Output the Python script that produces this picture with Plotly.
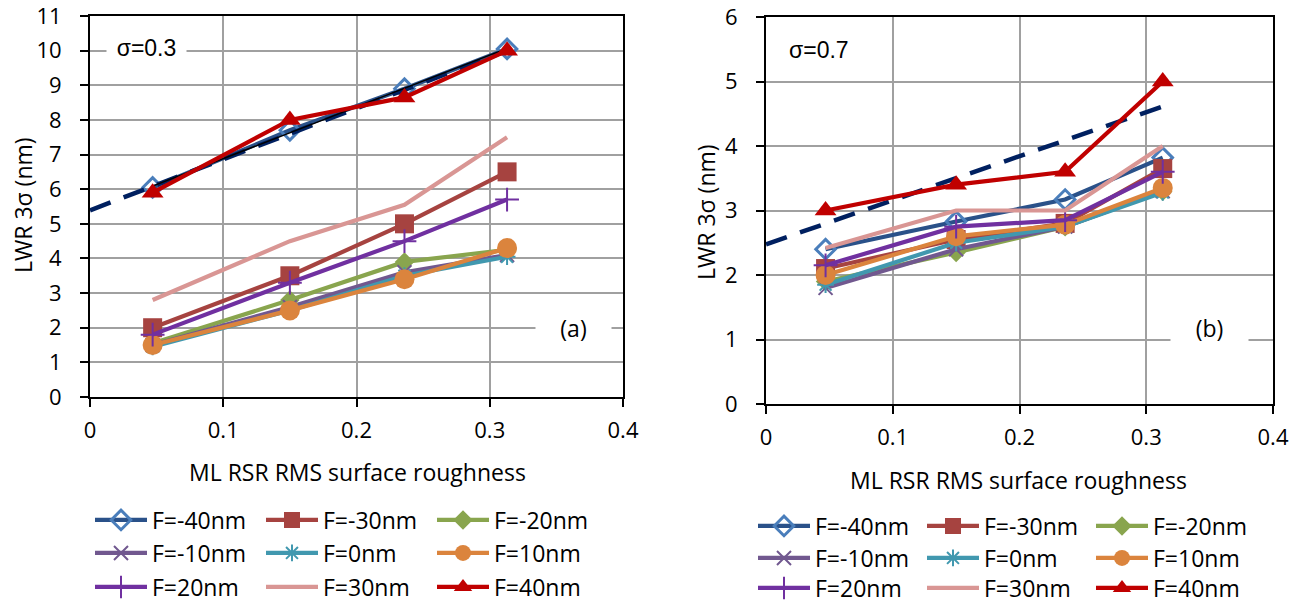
import numpy as np
import plotly.graph_objects as go

# ---------------- data ----------------
roughness = [0.047, 0.15, 0.236, 0.313]
series_names = ["F=-40nm", "F=-30nm", "F=-20nm", "F=-10nm", "F=0nm",
                "F=10nm", "F=20nm", "F=30nm", "F=40nm"]

# sigma = 0.3 (panel a)
a_m40 = [6.05, 7.7, 8.9, 10.05]
a_m30 = [2.0, 3.5, 5.0, 6.5]
a_m20 = [1.55, 2.8, 3.9, 4.25]
a_m10 = [1.5, 2.6, 3.6, 4.1]
a_0 = [1.45, 2.5, 3.5, 4.05]
a_p10 = [1.5, 2.5, 3.4, 4.3]
a_p20 = [1.8, 3.3, 4.5, 5.7]
a_p30 = [2.8, 4.5, 5.55, 7.5]
a_p40 = [5.9, 8.0, 8.65, 10.0]

# sigma = 0.7 (panel b)
b_m40 = [2.4, 2.83, 3.17, 3.82]
b_m30 = [2.1, 2.55, 2.8, 3.65]
b_m20 = [1.9, 2.35, 2.75, 3.3]
b_m10 = [1.8, 2.4, 2.75, 3.3]
b_0 = [1.85, 2.5, 2.75, 3.28]
b_p10 = [2.0, 2.6, 2.78, 3.35]
b_p20 = [2.15, 2.75, 2.85, 3.6]
b_p30 = [2.42, 3.0, 3.0, 4.0]
b_p40 = [3.0, 3.4, 3.6, 5.0]

panel_a = [a_m40, a_m30, a_m20, a_m10, a_0, a_p10, a_p20, a_p30, a_p40]
panel_b = [b_m40, b_m30, b_m20, b_m10, b_0, b_p10, b_p20, b_p30, b_p40]

x_ticks = [0, 0.1, 0.2, 0.3, 0.4]
y_ticks_a = [0, 1, 2, 3, 4, 5, 6, 7, 8, 9, 10, 11]
y_ticks_b = [0, 1, 2, 3, 4, 5, 6]

# ---------------- styles ----------------
W, H = 1299, 605
FONT = "Open Sans"

styles = [
    dict(color="#2A5189", symbol="diamond-open", size=15, mline="#4A7EBB", mw=3),
    dict(color="#A64340", symbol="square", size=19, mline="#A64340", mw=0),
    dict(color="#89A54E", symbol="diamond", size=15, mline="#89A54E", mw=0),
    dict(color="#71588F", symbol="x-thin", size=14, mline="#71588F", mw=2),
    dict(color="#4198AF", symbol="asterisk-open", size=14, mline="#4198AF", mw=2),
    dict(color="#DB843D", symbol="circle", size=20, mline="#DB843D", mw=0),
    dict(color="#7030A0", symbol="cross-thin", size=17, mline="#7030A0", mw=2),
    dict(color="#D99694", symbol=None, size=0, mline="#D99694", mw=0),
    dict(color="#C00000", symbol="triangle-up", size=19, mline="#C00000", mw=0),
]


def px_x(p):
    return p / W


def px_y(p):
    return 1 - p / H


fig = go.Figure()

legend_names_a = ["legend", "legend2", "legend3"]
legend_names_b = ["legend4", "legend5", "legend6"]


def add_panel(data, xa, ya, legends):
    for i, (name, ys) in enumerate(zip(series_names, data)):
        st = styles[i]
        if i == 8:
            continue
        marker = dict(symbol=st["symbol"] or "circle", size=st["size"],
                      color=st["color"] if st["mw"] == 0 else st["mline"],
                      line=dict(color=st["mline"], width=st["mw"]))
        fig.add_trace(go.Scatter(
            x=roughness, y=ys, name=name, xaxis=xa, yaxis=ya,
            mode="lines+markers" if st["symbol"] else "lines",
            line=dict(color=st["color"], width=4.2),
            marker=marker, legend=legends[i // 3], hoverinfo="skip"))


# panel a
add_panel(panel_a, "x", "y", legend_names_a)
# panel b
add_panel(panel_b, "x2", "y2", legend_names_b)

# trendlines (linear fits of the data)
x_fit = np.array([0.0, max(roughness)])
for data, xa, ya in [(panel_a, "x", "y"), (panel_b, "x2", "y2")]:
    k, b = np.polyfit(roughness, data[8], 1)
    fig.add_trace(go.Scatter(x=x_fit, y=k * x_fit + b, xaxis=xa, yaxis=ya,
                             mode="lines", showlegend=False, hoverinfo="skip",
                             line=dict(color="#002060", width=4.5, dash="22px,14px")))
# thin black fit in panel a
k, b = np.polyfit(roughness, panel_a[0], 1)
x_fit2 = np.array([min(roughness), max(roughness)])
fig.add_trace(go.Scatter(x=x_fit2, y=k * x_fit2 + b, xaxis="x", yaxis="y",
                         mode="lines", showlegend=False, hoverinfo="skip",
                         line=dict(color="black", width=1.5)))

# F=40 on top
for data, xa, ya, legends in [(panel_a, "x", "y", legend_names_a),
                              (panel_b, "x2", "y2", legend_names_b)]:
    st = styles[8]
    fig.add_trace(go.Scatter(
        x=roughness, y=data[8], name=series_names[8], xaxis=xa, yaxis=ya,
        mode="lines+markers", line=dict(color=st["color"], width=4.2),
        marker=dict(symbol=st["symbol"], size=st["size"], color=st["color"]),
        legend=legends[2], hoverinfo="skip"))

axis_common = dict(showgrid=True, gridcolor="#A0A0A0", gridwidth=1.5,
                   showline=True, linecolor="black", linewidth=2, mirror=True,
                   ticks="outside", ticklen=8, tickwidth=2, tickcolor="black",
                   ticklabeloverflow="allow",
                   zeroline=False, tickfont=dict(family=FONT, size=22, color="black"))

fig.update_layout(
    width=W, height=H, margin=dict(l=0, r=0, t=0, b=0, autoexpand=False),
    paper_bgcolor="white", plot_bgcolor="white",
    font=dict(family=FONT, size=23, color="black"),
    xaxis=dict(domain=[px_x(90), px_x(623)], range=[0, 0.4], tickvals=x_ticks,
               anchor="y", ticklabelstandoff=5, **axis_common),
    yaxis=dict(domain=[px_y(397), px_y(16)], range=[0, 11], tickvals=y_ticks_a,
               anchor="x", ticklabelstandoff=14, **axis_common),
    xaxis2=dict(domain=[px_x(766), px_x(1273)], range=[0, 0.4], tickvals=x_ticks,
                anchor="y2", ticklabelstandoff=5, **axis_common),
    yaxis2=dict(domain=[px_y(404), px_y(17)], range=[0, 6], tickvals=y_ticks_b,
                anchor="x2", ticklabelstandoff=14, **axis_common),
)

leg_common = dict(orientation="h", xanchor="left", yanchor="middle",
                  font=dict(family=FONT, size=23, color="black"),
                  bgcolor="rgba(0,0,0,0)", itemwidth=52,
                  entrywidthmode="pixels", tracegroupgap=0)
rows_a = [520, 553, 587]
rows_b = [526, 558, 588]
for name, ry in zip(legend_names_a, rows_a):
    fig.update_layout({name: dict(x=px_x(90), y=px_y(ry), entrywidth=104, **leg_common)})
for name, ry in zip(legend_names_b, rows_b):
    fig.update_layout({name: dict(x=px_x(753), y=px_y(ry), entrywidth=102, **leg_common)})

ann = []
# axis titles
ann.append(dict(text="LWR 3σ (nm)", x=px_x(23), y=px_y(205), textangle=-90))
ann.append(dict(text="LWR 3σ (nm)", x=px_x(706), y=px_y(212), textangle=-90))
ann.append(dict(text="ML RSR RMS surface roughness", x=px_x(357), y=px_y(472)))
ann.append(dict(text="ML RSR RMS surface roughness", x=px_x(1018), y=px_y(480)))
# panel labels
ann.append(dict(text="σ=0.3", x=px_x(146), y=px_y(48), bgcolor="white",
                width=77, height=28, font=dict(family="Liberation Sans", size=23)))
ann.append(dict(text="σ=0.7", x=px_x(819), y=px_y(50),
                font=dict(family="Liberation Sans", size=23)))
ann.append(dict(text="(a)", x=px_x(573), y=px_y(328), bgcolor="white",
                width=73, height=30))
ann.append(dict(text="(b)", x=px_x(1209), y=px_y(328), bgcolor="white",
                width=75, height=30))
for a in ann:
    a.setdefault("font", dict(family=FONT, size=23, color="black"))
    a["font"].setdefault("color", "black")
    a.update(xref="paper", yref="paper", showarrow=False,
             xanchor="center", yanchor="middle")
fig.update_layout(annotations=ann)

fig.write_html("out.html")
